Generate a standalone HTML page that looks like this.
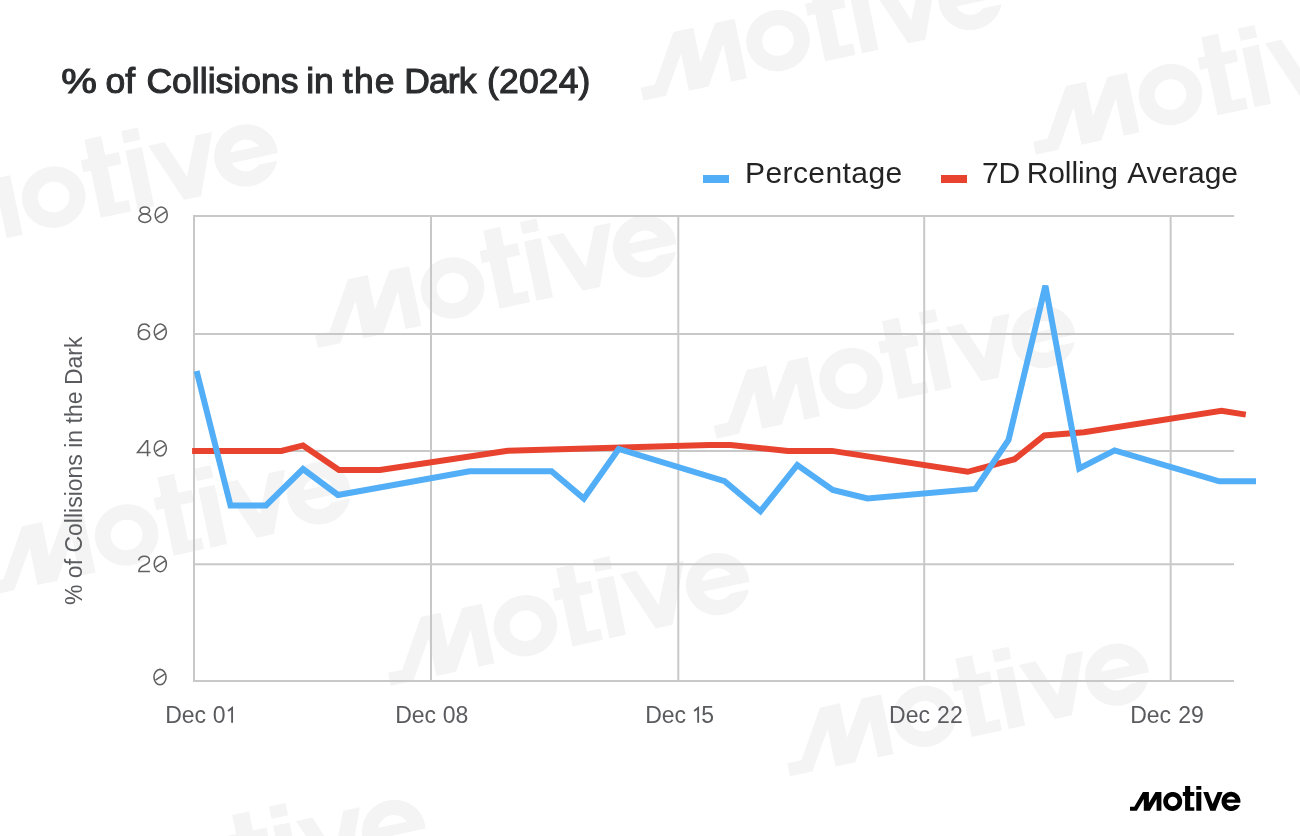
<!DOCTYPE html>
<html><head><meta charset="utf-8">
<style>
html,body{margin:0;padding:0;background:#fff;width:1300px;height:836px;overflow:hidden}
svg{position:absolute;left:0;top:0;display:block;will-change:transform}
text{font-family:"Liberation Sans",sans-serif}
</style></head>
<body>
<svg width="1300" height="836" viewBox="0 0 1300 836">
<defs><path id="lg" d="M71.30 -2.20 L71.30 -6.10 L66.30 -6.10 L66.30 -2.20ZM60.20 -5.90 L55.10 -5.90 L55.10 0.10 L52.80 0.10 L52.80 3.90 L55.10 3.90 L55.10 15.20 L55.10 18.80 L60.20 18.80 L64.30 18.80 L64.30 15.20 L60.20 15.20 L60.20 3.90 L64.30 3.90 L64.30 0.10 L60.20 0.10ZM13.80 18.80 L19.80 18.80 L26.60 7.00 L26.60 18.80 L31.40 18.80 L31.40 0.00 L25.50 0.00 L18.90 10.90 L18.90 0.00 L12.90 0.00 L4.30 14.70 L0.00 14.70 L0.00 18.80 L6.80 18.80 L13.80 7.00ZM71.30 0.10 L66.30 0.10 L66.30 18.80 L71.30 18.80ZM92.60 0.10 L87.60 0.10 L82.60 11.90 L78.20 0.10 L73.20 0.10 L80.30 18.80 L85.50 18.80ZM51.83 7.00 L51.65 6.41 L51.43 5.83 L51.18 5.27 L50.88 4.73 L50.56 4.20 L50.20 3.70 L49.80 3.22 L49.38 2.77 L48.93 2.35 L48.45 1.95 L47.95 1.59 L47.43 1.27 L46.88 0.97 L46.32 0.72 L45.74 0.50 L45.15 0.32 L44.54 0.18 L43.93 0.08 L43.32 0.02 L42.70 0.00 L42.08 0.02 L41.47 0.08 L40.86 0.18 L40.25 0.32 L39.66 0.50 L39.08 0.72 L38.52 0.97 L37.98 1.27 L37.45 1.59 L36.95 1.95 L36.47 2.35 L36.02 2.77 L35.60 3.22 L35.20 3.70 L34.84 4.20 L34.52 4.73 L34.22 5.27 L33.97 5.83 L33.75 6.41 L33.57 7.00 L33.43 7.61 L33.33 8.22 L33.27 8.83 L33.25 9.45 L33.27 10.07 L33.33 10.68 L33.43 11.29 L33.57 11.90 L33.75 12.49 L33.97 13.07 L34.22 13.63 L34.52 14.18 L34.84 14.70 L35.20 15.20 L35.60 15.68 L36.02 16.13 L36.47 16.55 L36.95 16.95 L37.45 17.31 L37.98 17.63 L38.52 17.93 L39.08 18.18 L39.66 18.40 L40.25 18.58 L40.86 18.72 L41.47 18.82 L42.08 18.88 L42.70 18.90 L43.32 18.88 L43.93 18.82 L44.54 18.72 L45.15 18.58 L45.74 18.40 L46.32 18.18 L46.88 17.93 L47.43 17.63 L47.95 17.31 L48.45 16.95 L48.93 16.55 L49.38 16.13 L49.80 15.68 L50.20 15.20 L50.56 14.70 L50.88 14.18 L51.18 13.63 L51.43 13.07 L51.65 12.49 L51.83 11.90 L51.97 11.29 L52.07 10.68 L52.13 10.07 L52.15 9.45 L52.13 8.83 L52.07 8.22 L51.97 7.61ZM47.24 10.67 L47.15 10.96 L47.04 11.25 L46.92 11.53 L46.77 11.80 L46.61 12.06 L46.43 12.31 L46.23 12.55 L46.02 12.77 L45.80 12.98 L45.56 13.18 L45.31 13.36 L45.05 13.52 L44.78 13.67 L44.50 13.79 L44.21 13.90 L43.92 13.99 L43.62 14.06 L43.31 14.11 L43.01 14.14 L42.70 14.15 L42.39 14.14 L42.09 14.11 L41.78 14.06 L41.48 13.99 L41.19 13.90 L40.90 13.79 L40.62 13.67 L40.35 13.52 L40.09 13.36 L39.84 13.18 L39.60 12.98 L39.38 12.77 L39.17 12.55 L38.97 12.31 L38.79 12.06 L38.63 11.80 L38.48 11.53 L38.36 11.25 L38.25 10.96 L38.16 10.67 L38.09 10.37 L38.04 10.06 L38.01 9.76 L38.00 9.45 L38.01 9.14 L38.04 8.84 L38.09 8.53 L38.16 8.23 L38.25 7.94 L38.36 7.65 L38.48 7.37 L38.63 7.10 L38.79 6.84 L38.97 6.59 L39.17 6.35 L39.38 6.13 L39.60 5.92 L39.84 5.72 L40.09 5.54 L40.35 5.38 L40.62 5.23 L40.90 5.11 L41.19 5.00 L41.48 4.91 L41.78 4.84 L42.09 4.79 L42.39 4.76 L42.70 4.75 L43.01 4.76 L43.31 4.79 L43.62 4.84 L43.92 4.91 L44.21 5.00 L44.50 5.11 L44.78 5.23 L45.05 5.38 L45.31 5.54 L45.56 5.72 L45.80 5.92 L46.02 6.13 L46.23 6.35 L46.43 6.59 L46.61 6.84 L46.77 7.10 L46.92 7.37 L47.04 7.65 L47.15 7.94 L47.24 8.23 L47.31 8.53 L47.36 8.84 L47.39 9.14 L47.40 9.45 L47.39 9.76 L47.36 10.06 L47.31 10.37ZM109.73 5.78 L109.48 5.20 L109.18 4.65 L108.86 4.12 L108.50 3.61 L108.10 3.12 L107.68 2.66 L107.23 2.23 L106.75 1.83 L106.25 1.47 L105.73 1.14 L105.18 0.84 L104.62 0.58 L104.04 0.36 L103.45 0.18 L102.84 0.03 L102.23 -0.07 L101.62 -0.13 L101.00 -0.15 L100.38 -0.13 L99.77 -0.07 L99.16 0.03 L98.55 0.18 L97.96 0.36 L97.38 0.58 L96.82 0.84 L96.27 1.14 L95.75 1.47 L95.25 1.83 L94.77 2.23 L94.32 2.66 L93.90 3.12 L93.50 3.61 L93.14 4.12 L92.82 4.65 L92.52 5.20 L92.27 5.78 L92.05 6.36 L91.87 6.97 L91.73 7.58 L91.63 8.20 L91.57 8.82 L91.55 9.45 L91.57 10.08 L91.63 10.70 L91.73 11.32 L91.87 11.93 L92.05 12.54 L92.27 13.12 L92.52 13.70 L92.82 14.25 L93.14 14.78 L93.50 15.29 L93.90 15.78 L94.32 16.24 L94.77 16.67 L95.25 17.07 L95.75 17.43 L96.27 17.76 L96.82 18.06 L97.38 18.32 L97.96 18.54 L98.55 18.72 L99.16 18.87 L99.77 18.97 L100.38 19.03 L101.00 19.05 L101.62 19.03 L102.23 18.97 L102.84 18.87 L103.45 18.72 L104.04 18.54 L104.62 18.32 L105.18 18.06 L105.73 17.76 L106.25 17.43 L106.75 17.07 L107.23 16.67 L107.68 16.24 L108.10 15.78 L108.50 15.29 L108.86 14.78 L109.18 14.25 L109.48 13.70 L109.73 13.12 L109.74 13.10 L104.13 13.10 L104.10 13.13 L103.86 13.34 L103.61 13.52 L103.35 13.69 L103.08 13.84 L102.80 13.98 L102.51 14.09 L102.22 14.18 L101.92 14.26 L101.61 14.31 L101.31 14.34 L101.00 14.35 L100.69 14.34 L100.39 14.31 L100.08 14.26 L99.78 14.18 L99.49 14.09 L99.20 13.98 L98.92 13.84 L98.65 13.69 L98.39 13.52 L98.14 13.34 L97.90 13.13 L97.68 12.91 L97.47 12.68 L97.27 12.43 L97.09 12.17 L96.93 11.90 L96.78 11.62 L96.66 11.33 L96.55 11.03 L96.48 10.80 L100.90 10.80 L105.52 10.80 L110.35 10.80 L110.37 10.70 L110.43 10.08 L110.45 9.45 L110.43 8.82 L110.37 8.20 L110.27 7.58 L110.13 6.97 L109.95 6.36ZM97.27 6.47 L97.47 6.22 L97.68 5.99 L97.90 5.77 L98.14 5.56 L98.39 5.38 L98.65 5.21 L98.92 5.06 L99.20 4.92 L99.49 4.81 L99.78 4.72 L100.08 4.64 L100.39 4.59 L100.69 4.56 L101.00 4.55 L101.31 4.56 L101.61 4.59 L101.92 4.64 L102.22 4.72 L102.51 4.81 L102.80 4.92 L103.08 5.06 L103.35 5.21 L103.61 5.38 L103.86 5.56 L104.10 5.77 L104.32 5.99 L104.53 6.22 L104.73 6.47 L104.91 6.73 L105.07 7.00 L105.22 7.28 L105.31 7.50 L96.69 7.50 L96.78 7.28 L96.93 7.00 L97.09 6.73Z"/></defs>
<rect width="1300" height="836" fill="#fff"/>
<g fill="#f4f4f4">
<use href="#lg" transform="matrix(3.29779 -0.71367 0.66409 3.16428 630.91 41.17)"/>
<use href="#lg" transform="matrix(3.29779 -0.71367 0.66409 3.16428 1023.41 95.17)"/>
<use href="#lg" transform="matrix(3.29779 -0.71367 0.66409 3.16428 -93.39 197.67)"/>
<use href="#lg" transform="matrix(3.29779 -0.71367 0.66409 3.16428 305.41 288.57)"/>
<use href="#lg" transform="matrix(3.29779 -0.71367 0.66409 3.16428 704.01 379.17)"/>
<use href="#lg" transform="matrix(3.29779 -0.71367 0.66409 3.16428 -20.49 535.47)"/>
<use href="#lg" transform="matrix(3.29779 -0.71367 0.66409 3.16428 378.31 626.27)"/>
<use href="#lg" transform="matrix(3.29779 -0.71367 0.66409 3.16428 777.51 716.82)"/>
<use href="#lg" transform="matrix(3.29779 -0.71367 0.66409 3.16428 54.41 873.07)"/>
</g>
<g stroke="#c8c8c8" stroke-width="2" fill="none">
<line x1="193" y1="216" x2="1234" y2="216"/>
<line x1="193" y1="334" x2="1234" y2="334"/>
<line x1="193" y1="451" x2="1234" y2="451"/>
<line x1="193" y1="564.3" x2="1234" y2="564.3"/>
<line x1="193" y1="681" x2="1234" y2="681"/>
<line x1="194" y1="215" x2="194" y2="682"/>
<line x1="431" y1="215" x2="431" y2="682"/>
<line x1="678.3" y1="215" x2="678.3" y2="682"/>
<line x1="924.2" y1="215" x2="924.2" y2="682"/>
<line x1="1170.65" y1="215" x2="1170.65" y2="682"/>
</g>
<polyline points="192.1,451.0 281.4,451.0 303.0,445.4 339.0,470.0 380.0,470.0 507.7,450.7 709.5,444.9 730.5,444.9 788.0,450.9 832.0,450.9 967.7,471.8 1014.6,459.2 1044.3,435.5 1084.0,432.2 1221.5,410.9 1245.8,414.6" fill="none" stroke="#e8432f" stroke-width="6"/>
<polyline points="196.6,371.0 230.5,505.5 266.0,505.5 303.0,469.0 338.0,495.0 469.6,471.2 551.5,471.2 583.8,498.5 618.7,449.0 724.6,481.2 760.4,511.2 797.3,465.0 832.7,490.0 867.5,498.5 975.4,488.9 1008.5,440.0 1045.4,285.7 1079.2,468.4 1114.6,450.4 1219.3,481.3 1256.0,481.3" fill="none" stroke="#52aef6" stroke-width="6"/>
<g font-size="35.5" fill="#2b2c2e" stroke="#2b2c2e" stroke-width="1.1">
<text transform="translate(61.2 93.3) scale(1.13 1)">%</text>
<text x="105.4" y="93.3">of<tspan dx="1.6"> Collisions</tspan><tspan dx="-2.1"> in</tspan><tspan dx="-2.0" letter-spacing="1.2"> the</tspan><tspan dx="-0.5" letter-spacing="-0.9"> Dark</tspan><tspan dx="1.4" letter-spacing="0.15"> (2024)</tspan></text>
</g>
<rect x="703" y="175" width="26" height="8" fill="#52aef6"/>
<text x="745" y="183.3" font-size="30" letter-spacing="0.42" fill="#232323">Percentage</text>
<rect x="941" y="175" width="26" height="8" fill="#e8432f"/>
<text x="982" y="183.3" font-size="30" letter-spacing="-0.08" fill="#232323">7D<tspan dx="-1.8"> Rolling</tspan><tspan dx="2.8"> Average</tspan></text>
<g stroke="#606060" stroke-width="1.55" fill="none">
<ellipse cx="144.8" cy="210.40" rx="4.75" ry="3.45"/><ellipse cx="144.8" cy="218.25" rx="5.95" ry="4.2"/><ellipse cx="161.2" cy="214.7" rx="6.05" ry="7.7"/><line x1="156.6" y1="217.80" x2="165.90" y2="211.7"/>
<ellipse cx="144.0" cy="334.65" rx="5.6" ry="4.9"/><path d="M149.3 327.15 C148.4 324.85 146.6 324.05 144.3 324.05 C140.4 324.05 138.4 327.55 138.4 332.35 L138.4 334.65"/><ellipse cx="160.3" cy="331.75" rx="6.05" ry="7.7"/><line x1="155.70" y1="334.85" x2="165.0" y2="328.75"/>
<path d="M147.6 456.35 V440.75 H146.5 L137.5 452.55 H150.6" stroke-linejoin="miter"/><ellipse cx="160.3" cy="448.35" rx="6.05" ry="7.7"/><line x1="155.70" y1="451.45" x2="165.0" y2="445.35"/>
<path d="M138.6 560.35 C139.2 557.85 141.40 556.25 144.30 556.25 C147.30 556.25 149.40 557.95 149.40 560.35 C149.40 562.95 147.30 564.15 144.5 565.25 C140.7 566.75 138.90 568.25 138.90 571.45 H149.90"/><ellipse cx="160.3" cy="563.95" rx="6.05" ry="7.7"/><line x1="155.70" y1="567.05" x2="165.0" y2="560.95"/>
<ellipse cx="160.0" cy="677.1" rx="6.05" ry="7.7"/><line x1="155.4" y1="680.2" x2="164.7" y2="674.1"/>
</g>
<text transform="translate(81.8 605) rotate(-90)" font-size="23" fill="#5a5b5e">% of Collisions in the Dark</text>
<g font-size="23" fill="#5a5b5e">
<text y="722.7"><tspan x="165.2">Dec</tspan><tspan x="212.8">0</tspan></text>
<path d="M228.1 710.9 L232.1 707.9 V722.7" fill="none" stroke="#5a5b5e" stroke-width="1.85"/>
<text y="722.7"><tspan x="395.2">Dec</tspan><tspan x="442.8">08</tspan></text>
<text y="722.7"><tspan x="645.2">Dec</tspan><tspan x="701.3">5</tspan></text>
<path d="M694.1 710.9 L698.15 707.9 V722.7" fill="none" stroke="#5a5b5e" stroke-width="1.85"/>
<text y="722.7"><tspan x="889.1">Dec</tspan><tspan x="937.1">22</tspan></text>
<text y="722.7"><tspan x="1130.2">Dec</tspan><tspan x="1178.2">29</tspan></text>
</g>
<use href="#lg" transform="translate(1130 792)" fill="#000"/>
</svg>
</body></html>
